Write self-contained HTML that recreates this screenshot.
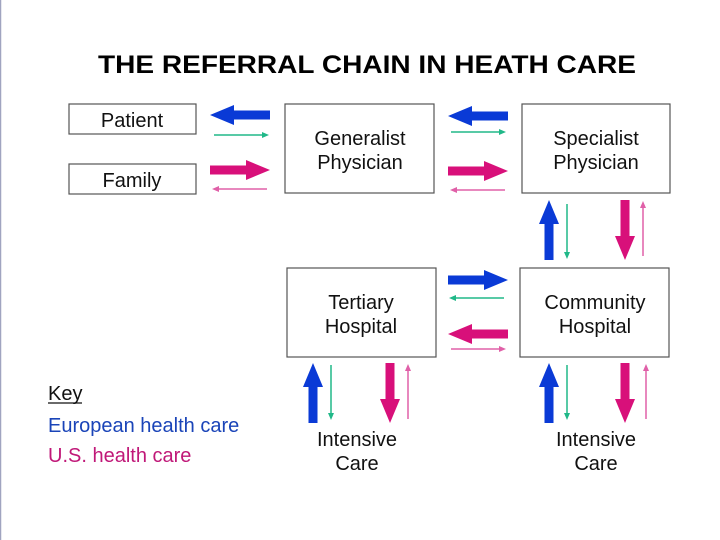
<!DOCTYPE html>
<html><head><meta charset="utf-8"><style>
html,body{margin:0;padding:0;background:#fff;}
svg{display:block;}
text{font-family:"Liberation Sans",Arial,sans-serif;}
</style></head><body>
<svg width="720" height="540" viewBox="0 0 720 540" xmlns="http://www.w3.org/2000/svg">
<defs>
<polygon id="tb" points="-30,-4.5 6,-4.5 6,-10 30,0 6,10 6,4.5 -30,4.5" fill="#0a3ad6"/>
<polygon id="tm" points="-30,-4.5 6,-4.5 6,-10 30,0 6,10 6,4.5 -30,4.5" fill="#d8107a"/>
<g id="ng"><line x1="-27" y1="0" x2="23" y2="0" stroke="#20b888" stroke-width="1.5"/><polygon points="21,-3 28,0 21,3" fill="#20b888"/></g>
<g id="np"><line x1="-27" y1="0" x2="23" y2="0" stroke="#e060a8" stroke-width="1.5"/><polygon points="21,-3 28,0 21,3" fill="#e060a8"/></g>
</defs>
<rect x="0" y="0" width="720" height="540" fill="#fff"/>
<line x1="0.5" y1="0" x2="0.5" y2="540" stroke="#a0a4c0" stroke-width="1.5"/>
<text x="367" y="73" text-anchor="middle" font-size="25" font-weight="bold" textLength="538" lengthAdjust="spacingAndGlyphs">THE REFERRAL CHAIN IN HEATH CARE</text>

<g fill="#fff" stroke="#555" stroke-width="1.2">
<rect x="69" y="104" width="127" height="30"/>
<rect x="69" y="164" width="127" height="30"/>
<rect x="285" y="104" width="149" height="89"/>
<rect x="522" y="104" width="148" height="89"/>
<rect x="287" y="268" width="149" height="89"/>
<rect x="520" y="268" width="149" height="89"/>
</g>
<g font-size="20" text-anchor="middle" fill="#111">
<text x="132" y="127">Patient</text>
<text x="132" y="187">Family</text>
<text x="360" y="145">Generalist</text><text x="360" y="169">Physician</text>
<text x="596" y="145">Specialist</text><text x="596" y="169">Physician</text>
<text x="361" y="309">Tertiary</text><text x="361" y="333">Hospital</text>
<text x="595" y="309">Community</text><text x="595" y="333">Hospital</text>
<text x="357" y="446">Intensive</text><text x="357" y="470">Care</text>
<text x="596" y="446">Intensive</text><text x="596" y="470">Care</text>
</g>

<use href="#tb" transform="translate(240,115) rotate(180)"/>
<use href="#ng" transform="translate(241,135)"/>
<use href="#tm" transform="translate(240,170)"/>
<use href="#np" transform="translate(240,189) rotate(180)"/>
<use href="#tb" transform="translate(478,116) rotate(180)"/>
<use href="#ng" transform="translate(478,132)"/>
<use href="#tm" transform="translate(478,171)"/>
<use href="#np" transform="translate(478,190) rotate(180)"/>
<use href="#tb" transform="translate(549,230) rotate(-90)"/>
<use href="#ng" transform="translate(567,231) rotate(90)"/>
<use href="#tm" transform="translate(625,230) rotate(90)"/>
<use href="#np" transform="translate(643,229) rotate(-90)"/>
<use href="#tb" transform="translate(478,280)"/>
<use href="#ng" transform="translate(477,298) rotate(180)"/>
<use href="#tm" transform="translate(478,334) rotate(180)"/>
<use href="#np" transform="translate(478,349)"/>
<use href="#tb" transform="translate(313,393) rotate(-90)"/>
<use href="#ng" transform="translate(331,392) rotate(90)"/>
<use href="#tm" transform="translate(390,393) rotate(90)"/>
<use href="#np" transform="translate(408,392) rotate(-90)"/>
<use href="#tb" transform="translate(549,393) rotate(-90)"/>
<use href="#ng" transform="translate(567,392) rotate(90)"/>
<use href="#tm" transform="translate(625,393) rotate(90)"/>
<use href="#np" transform="translate(646,392) rotate(-90)"/>

<g font-size="20">
<text x="48" y="400" fill="#111">Key</text>
<line x1="48" y1="403" x2="82" y2="403" stroke="#111" stroke-width="1.2"/>
<text x="48" y="432" fill="#1a44b8">European health care</text>
<text x="48" y="462" fill="#c01878">U.S. health care</text>
</g>
</svg>
</body></html>
